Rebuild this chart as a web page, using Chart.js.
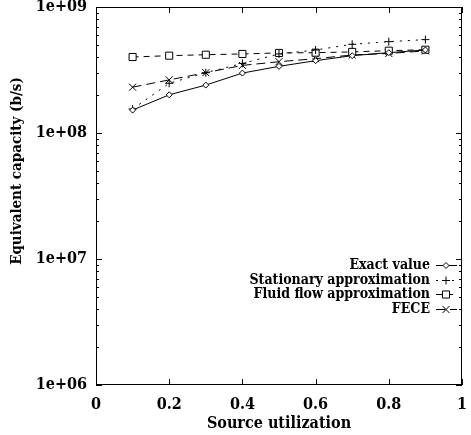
<!DOCTYPE html>
<html>
<head>
<meta charset="utf-8">
<script src="https://cdn.jsdelivr.net/npm/chart.js@4.4.1/dist/chart.umd.min.js"></script>
<style>
  html, body { margin: 0; padding: 0; background: #fff; }
  #wrap { width: 471px; height: 435px; }
</style>
</head>
<body>
<div id="wrap"><canvas id="chart"></canvas></div>
<script>
const utilization = [0.1, 0.2, 0.3, 0.4, 0.5, 0.6, 0.7, 0.8, 0.9];
const exactValue = [1.52e8, 2.01e8, 2.40e8, 2.99e8, 3.38e8, 3.75e8, 4.11e8, 4.34e8, 4.56e8];
const stationaryApprox = [1.55e8, 2.48e8, 3.01e8, 3.57e8, 4.24e8, 4.56e8, 5.06e8, 5.31e8, 5.51e8];
const fluidFlowApprox = [4.01e8, 4.11e8, 4.18e8, 4.24e8, 4.32e8, 4.34e8, 4.40e8, 4.50e8, 4.58e8];
const fece = [2.31e8, 2.64e8, 3.01e8, 3.44e8, 3.68e8, 3.89e8, 4.16e8, 4.28e8, 4.48e8];

const seriesNames = ["Exact value", "Stationary approximation", "Fluid flow approximation", "FECE"];
const xTickLabels = ["0", "0.2", "0.4", "0.6", "0.8", "1"];
const yTickLabels = ["1e+06", "1e+07", "1e+08", "1e+09"];

const FONT = "'DejaVu Serif Condensed', 'DejaVu Serif', serif";

const toPoints = (vals) => vals.map((v, i) => ({ x: utilization[i], y: v }));

// gnuplot-ish frame: border, inward ticks on all four sides, y title, key
const framePlugin = {
  id: "frame",
  afterDraw(chart) {
    const { ctx, chartArea: a, scales } = chart;
    const xs = scales.x, ys = scales.y;
    ctx.save();
    ctx.strokeStyle = "#000";
    ctx.lineWidth = 1;
    ctx.strokeRect(a.left + 0.5, a.top + 0.5, a.right - a.left - 1, a.bottom - a.top - 1);

    ctx.beginPath();
    xs.ticks.forEach((t) => {
      const px = Math.round(xs.getPixelForValue(t.value)) + 0.5;
      ctx.moveTo(px, a.bottom); ctx.lineTo(px, a.bottom - 6);
      ctx.moveTo(px, a.top); ctx.lineTo(px, a.top + 6);
    });
    for (let e = 6; e <= 9; e++) {
      for (let m = 1; m <= 9; m++) {
        const v = m * Math.pow(10, e);
        if (v > 1e9) break;
        const len = m === 1 ? 6 : 3;
        const py = Math.round(ys.getPixelForValue(v)) + 0.5;
        ctx.moveTo(a.left, py); ctx.lineTo(a.left + len, py);
        ctx.moveTo(a.right, py); ctx.lineTo(a.right - len, py);
      }
    }
    ctx.stroke();

    // y axis title
    ctx.fillStyle = "#000";
    ctx.font = "bold 15px " + FONT;
    ctx.textAlign = "center";
    ctx.textBaseline = "middle";
    ctx.translate(17, 171);
    ctx.rotate(-Math.PI / 2);
    ctx.fillText("Equivalent capacity (b/s)", 0, 0);
    ctx.restore();

    // key
    ctx.save();
    ctx.font = "bold 14px " + FONT;
    ctx.textAlign = "right";
    ctx.textBaseline = "middle";
    chart.data.datasets.forEach((ds, i) => {
      const y = Math.round(265 + i * 14.6) + 0.5;
      ctx.fillStyle = "#000";
      ctx.fillText(ds.label, 430, y);
      ctx.strokeStyle = "#000";
      ctx.lineWidth = 1;
      ctx.setLineDash(ds.borderDash || []);
      ctx.beginPath();
      ctx.moveTo(436, y); ctx.lineTo(457, y);
      ctx.stroke();
      ctx.setLineDash([]);
      ctx.fillStyle = "#fff";
      Chart.helpers.drawPoint(ctx, { pointStyle: ds.pointStyle, radius: ds.pointRadius, borderWidth: 1, rotation: 0 }, 446, y);
    });
    ctx.restore();
  }
};

const common = {
  borderColor: "#000",
  borderWidth: 1,
  pointBorderColor: "#000",
  pointBackgroundColor: "#fff",
  pointBorderWidth: 1,
  tension: 0,
  fill: false
};

new Chart(document.getElementById("chart"), {
  type: "line",
  data: {
    datasets: [
      { ...common, label: seriesNames[0], data: toPoints(exactValue), pointStyle: "rectRot", pointRadius: 3 },
      { ...common, label: seriesNames[1], data: toPoints(stationaryApprox), pointStyle: "cross", pointRadius: 4, borderDash: [2, 6] },
      { ...common, label: seriesNames[2], data: toPoints(fluidFlowApprox), pointStyle: "rect", pointRadius: 5, borderDash: [6, 5] },
      { ...common, label: seriesNames[3], data: toPoints(fece), pointStyle: "crossRot", pointRadius: 5, borderDash: [9, 5] }
    ]
  },
  options: {
    responsive: true,
    maintainAspectRatio: false,
    animation: false,
    layout: { padding: { top: 7, right: 9, left: 0, bottom: 0 } },
    plugins: { legend: { display: false }, tooltip: { enabled: false } },
    scales: {
      x: {
        type: "linear",
        min: 0,
        max: 1,
        grid: { display: false, drawTicks: false },
        border: { display: false },
        ticks: {
          stepSize: 0.2,
          padding: 10,
          color: "#000",
          font: { family: FONT, size: 16, weight: "bold", lineHeight: 1.2 },
          maxRotation: 0,
          callback: (v, i) => xTickLabels[i]
        },
        title: {
          display: true,
          text: "Source utilization",
          color: "#000",
          font: { family: FONT, size: 16, weight: "bold", lineHeight: 1.2 },
          padding: { top: 0, bottom: 2 }
        },
        afterFit: (s) => { s.height = 50; s.paddingLeft = 0; s.paddingRight = 0; }
      },
      y: {
        type: "logarithmic",
        min: 1e6,
        max: 1e9,
        grid: { display: false, drawTicks: false },
        border: { display: false },
        afterBuildTicks: (s) => {
          s.ticks = yTickLabels.map((_, i) => ({ value: Math.pow(10, 6 + i) }));
        },
        ticks: {
          autoSkip: false,
          padding: 9,
          color: "#000",
          font: { family: FONT, size: 16, weight: "bold", lineHeight: 0.8 },
          callback: (v, i) => yTickLabels[i]
        },
        afterFit: (s) => { s.width = 96; s.paddingTop = 0; s.paddingBottom = 0; }
      }
    }
  },
  plugins: [framePlugin]
});
</script>
</body>
</html>
